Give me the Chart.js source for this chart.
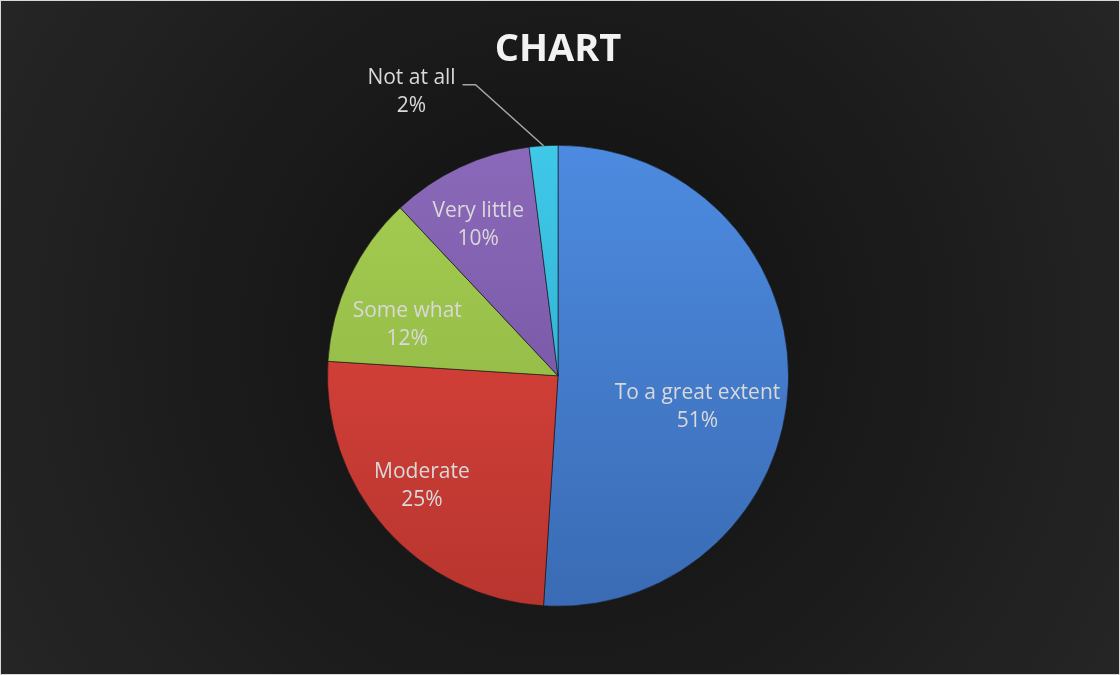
<!DOCTYPE html>
<html>
<head>
<meta charset="utf-8">
<script src="https://cdn.jsdelivr.net/npm/chart.js@4/dist/chart.umd.min.js"></script>
<style>
  html, body { margin: 0; padding: 0; background: #1c1c1c; }
  #wrap { width: 1120px; height: 675px; }
</style>
</head>
<body>
<div id="wrap"><canvas id="myChart" width="1120" height="675"></canvas></div>
<script>
// chart data
const labels = ["To a great extent", "Moderate", "Some what", "Very little", "Not at all"];
const values = [51, 25, 12, 10, 2];
const percentLabels = ["51%", "25%", "12%", "10%", "2%"];

// slice colours (top, bottom of the gradient)
const colors = {
  blue:   { light: "#4d8be0", dark: "#3a6bb4" },
  red:    { light: "#e4473f", dark: "#b8352f" },
  green:  { light: "#a6cf52", dark: "#88ad3f" },
  purple: { light: "#8b69ba", dark: "#6c4e98" },
  cyan:   { light: "#40c8e8", dark: "#26a3c6" }
};
const sliceColors = [colors.blue, colors.red, colors.green, colors.purple, colors.cyan];

// where each inside label sits: fraction of radius and a small turn (deg) off the mid angle
const labelRadius = [0.62, 0.76, 0.69, 0.74];
const labelTurn = [10.8, 2.4, -6.6, -2.7];

const backgroundPlugin = {
  id: "bg",
  beforeDraw(chart) {
    const ctx = chart.ctx;
    const w = chart.width, h = chart.height;
    ctx.save();
    const g = ctx.createRadialGradient(w / 2, h / 2, 0, w / 2, h / 2, w * 0.62);
    g.addColorStop(0, "#0f0f0f");
    g.addColorStop(0.5, "#1b1b1b");
    g.addColorStop(1, "#272727");
    ctx.fillStyle = g;
    ctx.fillRect(0, 0, w, h);
    ctx.strokeStyle = "#d9d9d9";
    ctx.lineWidth = 1;
    ctx.strokeRect(0.5, 0.5, w - 1, h - 1);
    ctx.restore();
  }
};

const labelPlugin = {
  id: "sliceLabels",
  afterDatasetsDraw(chart) {
    const ctx = chart.ctx;
    const arcs = chart.getDatasetMeta(0).data;
    ctx.save();
    ctx.font = "21px 'Open Sans'";
    ctx.fillStyle = "#d9d9d9";
    ctx.textAlign = "center";
    ctx.textBaseline = "middle";
    arcs.forEach((arc, i) => {
      const mid = (arc.startAngle + arc.endAngle) / 2;
      const r = arc.outerRadius;
      if (i < labelRadius.length) {
        const a = mid + labelTurn[i] * Math.PI / 180;
        const x = arc.x + Math.cos(a) * r * labelRadius[i];
        const y = arc.y + Math.sin(a) * r * labelRadius[i];
        ctx.fillText(labels[i], x, y - 14);
        ctx.fillText(percentLabels[i], x, y + 14);
      } else {
        // outside label with leader line
        const ex = arc.x + Math.cos(mid) * r;
        const ey = arc.y + Math.sin(mid) * r;
        const kx = ex - 68, ky = ey - 61;
        const hx = kx - 13;
        ctx.strokeStyle = "#a6a6a6";
        ctx.lineWidth = 1.5;
        ctx.beginPath();
        ctx.moveTo(ex, ey);
        ctx.lineTo(kx, ky);
        ctx.lineTo(hx, ky);
        ctx.stroke();
        const tx = hx - 51;
        ctx.fillText(labels[i], tx, ky - 7);
        ctx.fillText(percentLabels[i], tx, ky + 21);
      }
    });
    ctx.restore();
  }
};

function sliceFill(context) {
  const c = sliceColors[context.dataIndex];
  const area = context.chart.chartArea;
  if (!area) return c.light;
  const g = context.chart.ctx.createLinearGradient(0, area.top, 0, area.bottom);
  g.addColorStop(0, c.light);
  g.addColorStop(1, c.dark);
  return g;
}

const data = {
  labels: labels,
  datasets: [{
    data: values,
    backgroundColor: sliceFill,
    borderColor: "rgba(20, 20, 20, 0.6)",
    borderWidth: 1
  }]
};

const config = {
  type: "pie",
  data: data,
  plugins: [backgroundPlugin, labelPlugin],
  options: {
    responsive: false,
    animation: false,
    layout: { padding: { left: 327, right: 331, top: 0, bottom: 68 } },
    plugins: {
      legend: { display: false },
      tooltip: { enabled: false },
      title: {
        display: true,
        text: "CHART",
        color: "#f2f2f2",
        font: { family: "'Open Sans'", size: 38, weight: "bold" },
        padding: { top: 27, bottom: 72 }
      }
    }
  }
};

const myChart = new Chart(document.getElementById("myChart"), config);
</script>
</body>
</html>
